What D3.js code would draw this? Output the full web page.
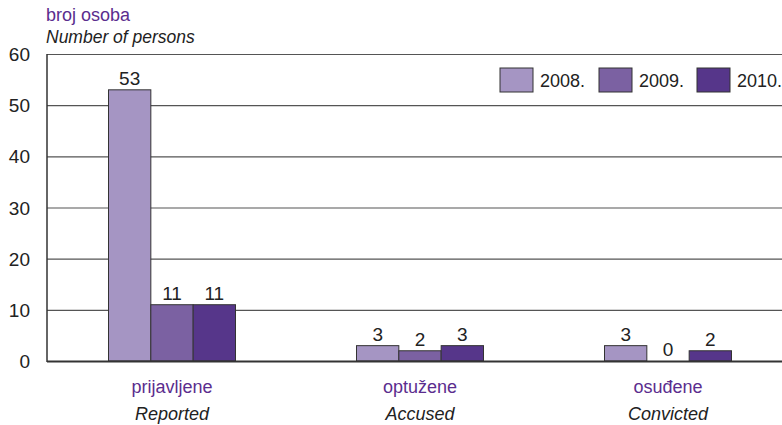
<!DOCTYPE html>
<html>
<head>
<meta charset="utf-8">
<script src="https://cdn.jsdelivr.net/npm/d3@7"></script>
<style>
body{margin:0;background:#fff}
text{font-family:"Liberation Sans Narrow","Arial Narrow","Liberation Sans",Arial,sans-serif}
</style>
</head>
<body>
<svg id="chart" width="782" height="425"></svg>
<script>
var categories = ['prijavljene','optužene','osuđene']
var categoriesEn = ['Reported','Accused','Convicted']
var years = ['2008.','2009.','2010.']
var values2008 = [53,3,3]
var values2009 = [11,2,0]
var values2010 = [11,3,2]
var yTicks = [0,10,20,30,40,50,60]
var colors = ['#a595c3','#7b61a2','#56368a']

var series = [values2008,values2009,values2010]

var svg = d3.select('#chart')
var plotLeft = 47, plotBottom = 361, plotTop = 54

var y = d3.scaleLinear().domain([0,60]).range([plotBottom,plotTop])
var x = d3.scaleBand().domain(categories).range([plotLeft+1,792]).padding(0)
var x1 = d3.scaleBand().domain(years).range([0,127])
var groupOff = (x.bandwidth()-127)/2

// grid
svg.append('g').selectAll('line').data(yTicks.filter(d=>d>0)).join('line')
	.attr('x1',plotLeft).attr('x2',782)
	.attr('y1',d=>y(d)+.5).attr('y2',d=>y(d)+.5)
	.style('stroke','#555').style('stroke-width',1.2)

// y tick labels
svg.append('g').selectAll('text').data(yTicks).join('text')
	.attr('x',30).attr('y',d=>y(d)+7)
	.attr('text-anchor','end')
	.style('font-size','19px').style('fill','#222')
	.text(d=>d)

// bars
var groups = svg.append('g').selectAll('g').data(categories).join('g')
	.attr('transform',d=>`translate(${x(d)+groupOff},0)`)

groups.each(function(c,ci){
	var g = d3.select(this)
	years.forEach((yr,si)=>{
		var v = series[si][ci]
		if (v>0) {
			g.append('rect')
				.attr('x',x1(yr)).attr('width',x1.bandwidth())
				.attr('y',y(v)).attr('height',y(0)-y(v))
				.style('fill',colors[si]).style('stroke','#333').style('stroke-width',1)
		}
		g.append('text')
			.attr('x',x1(yr)+x1.bandwidth()/2)
			.attr('y',y(v)-5)
			.attr('text-anchor','middle')
			.style('font-size','19px').style('fill','#222')
			.text(v)
	})
})

// axes lines
svg.append('line').attr('x1',plotLeft).attr('x2',plotLeft).attr('y1',plotTop).attr('y2',plotBottom+1)
	.style('stroke','#333').style('stroke-width',1.5)
svg.append('line').attr('x1',plotLeft).attr('x2',782).attr('y1',plotBottom+.5).attr('y2',plotBottom+.5)
	.style('stroke','#333').style('stroke-width',2)

// category labels
svg.append('g').selectAll('text').data(categories).join('text')
	.attr('x',d=>x(d)+x.bandwidth()/2).attr('y',393)
	.attr('text-anchor','middle')
	.style('font-size','18px').style('fill','#5b2d8e')
	.text(d=>d)
svg.append('g').selectAll('text').data(categoriesEn).join('text')
	.attr('x',(d,i)=>x(categories[i])+x.bandwidth()/2).attr('y',420)
	.attr('text-anchor','middle')
	.style('font-size','18px').style('font-style','italic').style('fill','#222')
	.text(d=>d)

// title
svg.append('text').attr('x',46).attr('y',21)
	.style('font-size','18px').style('fill','#5b2d8e').text('broj osoba')
svg.append('text').attr('x',46).attr('y',43)
	.style('font-size','17.5px').style('font-style','italic').style('fill','#222').text('Number of persons')

// legend
var legendX = [500,599,697]
var legend = svg.append('g').selectAll('g').data(years).join('g')
	.attr('transform',(d,i)=>`translate(${legendX[i]},68)`)
legend.append('rect').attr('width',33).attr('height',24)
	.style('fill',(d,i)=>colors[i]).style('stroke','#333').style('stroke-width',1)
legend.append('text').attr('x',40).attr('y',19)
	.style('font-size','18px').style('fill','#222')
	.text(d=>d)
</script>
</body>
</html>
